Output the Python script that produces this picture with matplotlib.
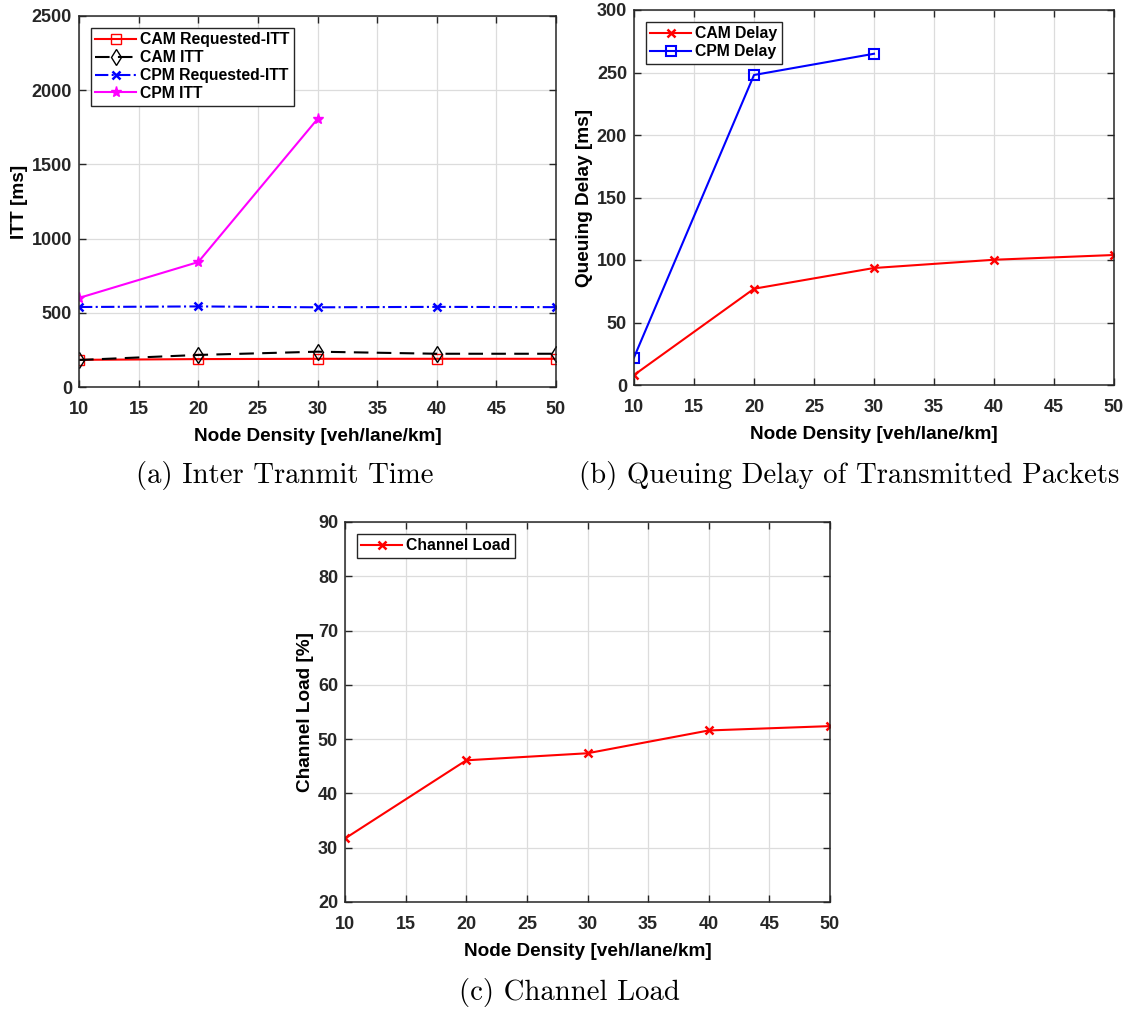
import numpy as np
import matplotlib.pyplot as plt

# ---------------- DATA ----------------
density = [10, 20, 30, 40, 50]

cam_req_itt = [183, 188, 190, 190, 190]
cam_itt = [182, 216, 238, 224, 224]
cpm_req_itt = [539, 543, 537, 540, 538]
cpm_density = [10, 20, 30]
cpm_itt = [600, 842, 1806]

cam_delay = [8, 77, 93.6, 100.2, 104]
cpm_delay = [22, 248, 265]

channel_load = [31.7, 46.1, 47.4, 51.6, 52.4]

xticks = [10, 15, 20, 25, 30, 35, 40, 45, 50]
# --------------------------------------

plt.rcParams["font.family"] = "Liberation Sans"
plt.rcParams["font.weight"] = "bold"
plt.rcParams["axes.labelweight"] = "bold"

W, H = 1133, 1010
fig = plt.figure(figsize=(W / 100, H / 100), dpi=100)


def make_axes(left, top, right, bottom):
    return fig.add_axes([left / W, 1 - bottom / H, (right - left) / W, (bottom - top) / H])


def style(ax, ylim, yticks, ylabel):
    ax.set_xlim(10, 50)
    ax.set_ylim(*ylim)
    ax.set_xticks(xticks)
    ax.set_yticks(yticks)
    ax.grid(True, color="#dcdcdc", linewidth=0.9)
    ax.set_axisbelow(True)
    ax.tick_params(direction="in", top=True, right=True, length=5, width=1,
                   labelsize=13, colors="#262626", pad=5)
    ax.tick_params(axis="x", pad=10)
    for lab in ax.get_xticklabels() + ax.get_yticklabels():
        lab.set_fontweight("bold")
    for s in ax.spines.values():
        s.set_color("#262626")
        s.set_linewidth(1.1)
    ax.set_xlabel("Node Density [veh/lane/km]", fontsize=13.7, fontweight="bold", labelpad=7)
    ax.set_ylabel(ylabel, fontsize=13.7, fontweight="bold", labelpad=3)


def legend(ax):
    leg = ax.legend(loc="upper left", fontsize=11.3, fancybox=False, edgecolor="#262626",
                    framealpha=1, handlelength=2.6, borderpad=0.3, labelspacing=0.18,
                    handletextpad=0.25, borderaxespad=0.75)
    leg.get_frame().set_linewidth(1)
    for t in leg.get_texts():
        t.set_fontweight("bold")


# (a) ITT
ax1 = make_axes(79, 16, 556, 387)
ax1.plot(density, cam_req_itt, "-", color="red", marker="s", mfc="none", ms=7, lw=1.5,
         label="CAM Requested-ITT")
ax1.plot(density, cam_itt, "--", color="black", marker="d", mfc="none", ms=8, lw=1.5,
         dashes=(7, 4), label="CAM ITT")
ax1.plot(density, cpm_req_itt, "-.", color="blue", marker="x", ms=6, mew=1.8, lw=1.5,
         label="CPM Requested-ITT")
ax1.plot(cpm_density, cpm_itt, "-", color="magenta", marker="*", ms=8, lw=1.5,
         label="CPM ITT")
style(ax1, (0, 2500), [0, 500, 1000, 1500, 2000, 2500], "ITT [ms]")
legend(ax1)

# (b) Queuing delay
ax2 = make_axes(634, 10, 1114, 385)
ax2.plot(density, cam_delay, "-", color="red", marker="x", ms=6, mew=1.8, lw=1.5,
         label="CAM Delay")
ax2.plot(cpm_density, cpm_delay, "-", color="blue", marker="s", mfc="none", ms=7, mew=1.5,
         lw=1.5, label="CPM Delay")
style(ax2, (0, 300), [0, 50, 100, 150, 200, 250, 300], "Queuing Delay [ms]")
legend(ax2)

# (c) Channel load
ax3 = make_axes(345, 522, 830, 902)
ax3.plot(density, channel_load, "-", color="red", marker="x", ms=6, mew=1.8, lw=1.5,
         label="Channel Load")
style(ax3, (20, 90), [20, 30, 40, 50, 60, 70, 80, 90], "Channel Load [%]")
legend(ax3)

cap = dict(fontsize=20.7, fontfamily="cmr10", fontweight="normal", ha="center", va="center")
fig.text(285 / W, 1 - 475 / H, "(a) Inter Tranmit Time", **cap)
fig.text(849 / W, 1 - 475 / H, "(b) Queuing Delay of Transmitted Packets", **cap)
fig.text(569 / W, 1 - 992 / H, "(c) Channel Load", **cap)

fig.savefig("out.png", dpi=100)
